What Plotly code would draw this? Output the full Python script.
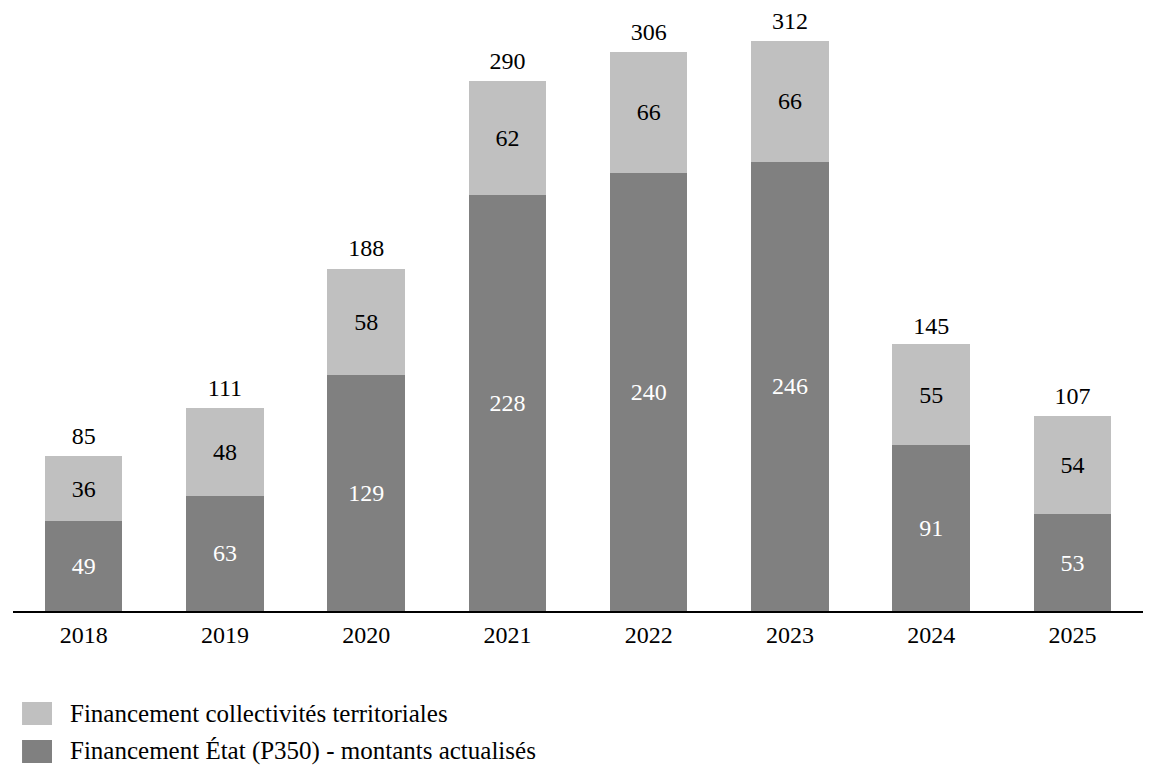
import plotly.graph_objects as go

annees = ["2018", "2019", "2020", "2021", "2022", "2023", "2024", "2025"]
etat = [49, 63, 129, 228, 240, 246, 91, 53]
collectivites = [36, 48, 58, 62, 66, 66, 55, 54]
totaux = [85, 111, 188, 290, 306, 312, 145, 107]

nom_etat = "Financement État (P350) - montants actualisés"
nom_coll = "Financement collectivités territoriales"
gris_fonce = "#808080"
gris_clair = "#c0c0c0"
police = "Liberation Serif"

fig = go.Figure()

fig.add_trace(go.Bar(
    x=annees, y=etat, name=nom_etat,
    marker=dict(color=gris_fonce, line=dict(width=0)),
    text=etat, textposition="inside", insidetextanchor="middle",
    textangle=0, textfont=dict(color="white", size=24, family=police),
    showlegend=False,
))
fig.add_trace(go.Bar(
    x=annees, y=collectivites, name=nom_coll,
    marker=dict(color=gris_clair, line=dict(width=0)),
    text=collectivites, textposition="inside", insidetextanchor="middle",
    textangle=0, textfont=dict(color="black", size=24, family=police),
    showlegend=False,
))
# totaux au-dessus des barres (marqueur invisible pour décaler le texte)
fig.add_trace(go.Scatter(
    x=annees, y=totaux, mode="markers+text",
    marker=dict(size=8, opacity=0),
    text=totaux, textposition="top center",
    textfont=dict(color="black", size=24, family=police),
    cliponaxis=False,
    showlegend=False, hoverinfo="skip",
))

# légende dessinée à la main (carrés plus grands que ceux de plotly)
legende = [(nom_coll, gris_clair, -0.1514, -0.1897),
           (nom_etat, gris_fonce, -0.2146, -0.2529)]
for nom, couleur, y0, y1 in legende:
    fig.add_shape(type="rect", xref="paper", yref="paper",
                  x0=0.008, x1=0.0345, y0=y1, y1=y0,
                  fillcolor=couleur, line=dict(width=0))
    fig.add_annotation(xref="paper", yref="paper", x=0.0487, y=(y0 + y1) / 2,
                       xanchor="left", yanchor="middle", showarrow=False,
                       text=nom, font=dict(size=25, family=police, color="black"))

fig.update_layout(
    width=1157, height=783,
    barmode="stack", bargap=0.45,
    paper_bgcolor="white", plot_bgcolor="white",
    font=dict(family=police, size=24, color="black"),
    margin=dict(l=5, r=22, t=2, b=180, autoexpand=False),
    showlegend=False,
    xaxis=dict(
        type="category",
        showline=True, linecolor="black", linewidth=1.5,
        ticks="", showgrid=False, zeroline=False,
        tickfont=dict(size=24, family=police),
        ticklabelstandoff=1,
    ),
    yaxis=dict(
        visible=False, range=[0, 329], showgrid=False, zeroline=False,
    ),
)

fig.write_html("out.html")
